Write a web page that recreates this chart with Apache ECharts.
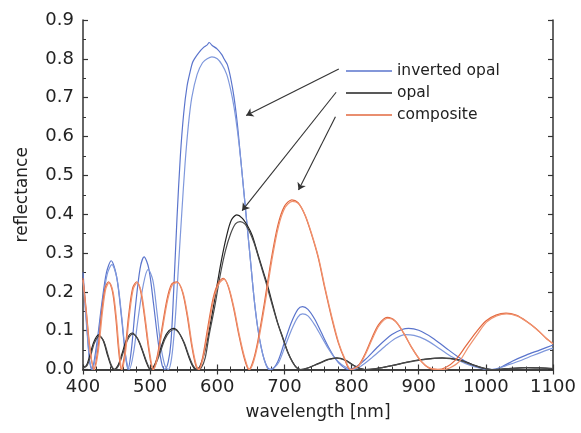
<!DOCTYPE html>
<html>
<head>
<meta charset="utf-8">
<script src="https://cdn.jsdelivr.net/npm/echarts@6/dist/echarts.min.js"></script>
<style>html,body{margin:0;padding:0;background:#fff}#c{width:581px;height:433px}</style>
</head>
<body>
<div id="c"></div>
<script>
// ---------- data ----------
const xTicks = [400, 500, 600, 700, 800, 900, 1000, 1100];
const yTicks = [0.0, 0.1, 0.2, 0.3, 0.4, 0.5, 0.6, 0.7, 0.8, 0.9];
const seriesNames = ['inverted opal', 'opal', 'composite'];

// inverted opal, curve A (upper)
const invA_wl = [400,405,410,413,420,428,435,442,450,457,463,467,472,478,485,491,498,505,512,518,522,527,531,535,540,545,550,555,560,563,566,572,580,585,588,592,600,607,610,615,620,625,630,635,640,645,650,655,660,665,670,675,680,690,700,710,720,727,735,745,755,765,775,785,795,805,820,840,860,875,885,900,920,940,960,980,1000,1010,1025,1040,1060,1080,1100];
const invA_R  = [0.25,0.13,0.02,0.0,0.06,0.17,0.25,0.28,0.24,0.14,0.04,0.0,0.05,0.16,0.26,0.29,0.26,0.17,0.07,0.01,0.0,0.02,0.07,0.2,0.39,0.55,0.66,0.73,0.77,0.79,0.80,0.815,0.83,0.836,0.842,0.835,0.825,0.81,0.80,0.785,0.75,0.70,0.63,0.54,0.45,0.36,0.27,0.18,0.11,0.06,0.025,0.005,0.0,0.02,0.07,0.12,0.155,0.162,0.155,0.13,0.095,0.06,0.03,0.01,0.0,0.005,0.025,0.06,0.09,0.103,0.106,0.101,0.082,0.056,0.031,0.012,0.001,0.0,0.008,0.022,0.037,0.05,0.063];
// inverted opal, curve B (lower)
const invB_wl = [400,405,410,414,421,429,436,443,451,458,464,469,475,482,490,497,504,510,516,522,527,532,537,542,547,552,557,562,570,578,585,592,600,607,614,620,625,630,635,640,645,650,655,660,665,670,677,685,692,700,710,720,727,735,745,755,765,775,785,795,802,815,830,850,865,880,893,910,930,950,970,990,1005,1015,1030,1050,1070,1085,1100];
const invB_R  = [0.23,0.12,0.02,0.0,0.06,0.17,0.245,0.27,0.23,0.13,0.03,0.0,0.04,0.13,0.22,0.258,0.23,0.15,0.06,0.01,0.0,0.03,0.12,0.26,0.40,0.53,0.63,0.70,0.76,0.79,0.80,0.805,0.80,0.785,0.76,0.72,0.675,0.615,0.54,0.45,0.36,0.27,0.18,0.11,0.06,0.025,0.0,0.005,0.02,0.055,0.10,0.135,0.143,0.138,0.115,0.085,0.055,0.03,0.013,0.003,0.0,0.01,0.03,0.06,0.08,0.09,0.088,0.077,0.055,0.032,0.015,0.004,0.0,0.001,0.01,0.022,0.036,0.046,0.055];

// opal, curve A (upper)
const opalA_wl = [400,405,410,416,423,430,436,441,446,452,458,465,473,481,488,494,500,506,513,521,528,535,542,550,557,563,568,574,582,590,598,606,614,621,629,637,645,652,660,667,674,682,690,698,705,712,718,724,735,750,765,778,790,802,812,820,835,860,885,910,935,960,980,995,1008,1030,1060,1080,1100];
const opalA_R  = [0.005,0.01,0.035,0.07,0.089,0.075,0.04,0.013,0.0,0.01,0.04,0.077,0.094,0.08,0.05,0.02,0.0,0.01,0.04,0.08,0.1,0.106,0.097,0.07,0.035,0.01,0.0,0.008,0.05,0.12,0.2,0.28,0.345,0.385,0.398,0.39,0.37,0.345,0.30,0.26,0.222,0.17,0.12,0.08,0.045,0.02,0.005,0.0,0.004,0.015,0.026,0.03,0.025,0.012,0.003,0.0,0.002,0.01,0.02,0.027,0.03,0.025,0.013,0.004,0.0,0.002,0.005,0.004,0.002];
// opal, curve B (lower)
const opalB_wl = [400,406,411,417,424,431,437,442,447,453,459,466,474,482,489,495,501,507,514,522,529,536,543,551,558,564,570,576,582,588,596,604,612,620,627,634,641,648,655,662,668,674,682,690,698,705,712,718,724,735,750,765,778,790,802,812,820,835,860,885,910,935,960,980,995,1008,1030,1060,1080,1100];
const opalB_R  = [0.004,0.01,0.033,0.068,0.086,0.073,0.039,0.012,0.0,0.01,0.039,0.075,0.091,0.078,0.048,0.019,0.0,0.01,0.039,0.078,0.097,0.103,0.094,0.068,0.034,0.01,0.0,0.004,0.03,0.09,0.16,0.24,0.305,0.35,0.375,0.381,0.375,0.355,0.325,0.285,0.25,0.215,0.165,0.118,0.078,0.044,0.019,0.005,0.0,0.004,0.014,0.025,0.029,0.024,0.011,0.003,0.0,0.002,0.01,0.019,0.026,0.029,0.024,0.012,0.004,0.0,0.002,0.005,0.004,0.002];

// composite, curve A
const compA_wl = [400,405,410,416,422,428,433,438,444,449,453,457,462,468,474,480,486,492,498,504,510,517,525,532,540,548,555,562,568,572,578,586,594,602,609,616,624,632,640,647,653,660,670,680,690,700,711,720,730,740,750,760,770,780,790,798,810,820,830,840,853,865,877,890,903,915,928,940,955,970,985,1000,1015,1030,1045,1060,1075,1090,1100];
const compA_R  = [0.235,0.15,0.06,0.0,0.05,0.15,0.21,0.226,0.2,0.13,0.05,0.0,0.04,0.14,0.21,0.226,0.2,0.13,0.05,0.0,0.03,0.1,0.18,0.22,0.226,0.2,0.14,0.06,0.01,0.0,0.03,0.11,0.185,0.225,0.235,0.215,0.16,0.09,0.03,0.0,0.02,0.07,0.17,0.28,0.37,0.42,0.437,0.43,0.40,0.35,0.29,0.21,0.135,0.07,0.025,0.0,0.01,0.04,0.08,0.115,0.134,0.125,0.095,0.055,0.022,0.004,0.0,0.005,0.025,0.06,0.095,0.125,0.14,0.145,0.14,0.125,0.105,0.08,0.067];
// composite, curve B
const compB_wl = [400,405,410,417,423,429,434,439,445,450,454,458,463,469,475,481,487,493,499,505,511,518,526,533,541,549,556,563,569,573,579,587,595,603,610,617,625,633,641,648,654,661,671,681,691,701,712,721,731,741,751,761,771,781,791,799,811,821,831,841,854,866,878,891,904,918,936,946,960,973,987,1001,1016,1031,1046,1061,1076,1091,1100];
const compB_R  = [0.23,0.145,0.055,0.0,0.05,0.148,0.208,0.224,0.198,0.128,0.048,0.0,0.04,0.138,0.208,0.224,0.198,0.128,0.048,0.0,0.03,0.1,0.178,0.218,0.224,0.198,0.138,0.058,0.01,0.0,0.03,0.108,0.183,0.222,0.232,0.212,0.158,0.088,0.03,0.0,0.02,0.07,0.168,0.278,0.367,0.417,0.433,0.427,0.397,0.347,0.287,0.207,0.133,0.068,0.024,0.0,0.01,0.04,0.079,0.113,0.132,0.123,0.093,0.053,0.021,0.003,0.0,0.004,0.02,0.055,0.09,0.122,0.138,0.143,0.138,0.123,0.103,0.079,0.066];

// annotation arrows (legend -> curve), in data coordinates
const arrowStarts = [[781, 0.774], [777, 0.714], [776, 0.651]];
const arrowEnds   = [[643, 0.654], [637, 0.409], [721, 0.462]];

// ---------- chart ----------
const FONT = 'DejaVu Sans';
const zip = (xs, ys) => xs.map((x, i) => [x, ys[i]]);
const colors = {
  invA: '#5a74cc', invB: '#7f98dc',
  opalA: '#222222', opalB: '#4a4a4a',
  compA: '#e2683f', compB: '#f0926e'
};
function line(name, data, color, extra) {
  return Object.assign({
    name, type: 'line', data, showSymbol: false, symbol: 'none',
    smooth: 0.3, lineStyle: { color, width: 1.2 }, itemStyle: { color },
    silent: true, animation: false, z: 3
  }, extra || {});
}
const axisColor = '#333';
const baseX = {
  type: 'value', min: 400, max: 1100, interval: 100,
  axisLine: { show: true, lineStyle: { color: axisColor, width: 1.5 } },
  axisTick: { show: true, inside: true, length: 5, lineStyle: { color: axisColor, width: 1.2 } },
  minorTick: { show: true, splitNumber: 5, length: 3, lineStyle: { color: axisColor, width: 1 } },
  splitLine: { show: false }, minorSplitLine: { show: false }
};
const baseY = {
  type: 'value', min: 0, max: 0.9, interval: 0.1,
  axisLine: { show: true, lineStyle: { color: axisColor, width: 1.5 } },
  axisTick: { show: true, inside: true, length: 5, lineStyle: { color: axisColor, width: 1.2 } },
  minorTick: { show: true, splitNumber: 2, length: 3, lineStyle: { color: axisColor, width: 1 } },
  splitLine: { show: false }, minorSplitLine: { show: false }
};
const chart = echarts.init(document.getElementById('c'), null, { renderer: 'canvas' });
chart.setOption({
  animation: false,
  backgroundColor: '#fff',
  grid: { left: 83, right: 28, top: 20, bottom: 63.5 },
  legend: {
    data: seriesNames, orient: 'vertical', left: 341, top: 57,
    icon: 'rect', itemWidth: 46, itemHeight: 1.5, itemGap: 4,
    textStyle: { fontFamily: FONT, fontSize: 15.5, color: '#222', lineHeight: 18 },
    selectedMode: false
  },
  xAxis: [
    Object.assign({}, baseX, {
      position: 'bottom',
      name: 'wavelength [nm]', nameLocation: 'middle', nameGap: 35,
      nameTextStyle: { fontFamily: FONT, fontSize: 17, color: '#222' },
      axisLabel: { fontFamily: FONT, fontSize: 18, color: '#222', margin: 9,
        formatter: v => (xTicks.indexOf(v) >= 0 ? String(v) : '') }
    }),
    Object.assign({}, baseX, { position: 'top', axisLabel: { show: false } })
  ],
  yAxis: [
    Object.assign({}, baseY, {
      position: 'left',
      name: 'reflectance', nameLocation: 'middle', nameGap: 52,
      nameTextStyle: { fontFamily: FONT, fontSize: 17, color: '#222' },
      axisLabel: { fontFamily: FONT, fontSize: 18, color: '#222', margin: 9,
        formatter: v => yTicks.find(t => Math.abs(t - v) < 1e-9).toFixed(1) }
    }),
    Object.assign({}, baseY, { position: 'right', axisLabel: { show: false } })
  ],
  series: [
    line('inverted opal', zip(invA_wl, invA_R), colors.invA),
    line('inverted opal', zip(invB_wl, invB_R), colors.invB),
    line('opal', zip(opalA_wl, opalA_R), colors.opalA),
    line('opal', zip(opalB_wl, opalB_R), colors.opalB),
    line('composite', zip(compA_wl, compA_R), colors.compA),
    line('composite', zip(compB_wl, compB_R), colors.compB, {
      markLine: {
        silent: true, animation: false,
        symbol: ['none', 'arrow'], symbolSize: 7,
        label: { show: false },
        lineStyle: { color: '#333', width: 1.1, type: 'solid' },
        itemStyle: { color: '#333' },
        data: arrowStarts.map((s, i) => [{ coord: s }, { coord: arrowEnds[i] }])
      }
    })
  ]
});
</script>
</body>
</html>
